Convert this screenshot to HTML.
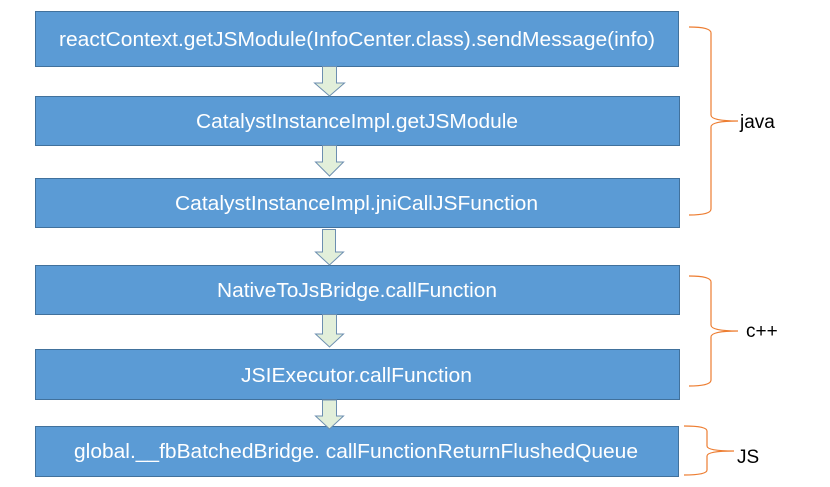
<!DOCTYPE html>
<html><head><meta charset="utf-8"><style>html,body{margin:0;padding:0;background:#fff}svg{display:block}</style></head>
<body>
<svg width="830" height="487" viewBox="0 0 830 487" xmlns="http://www.w3.org/2000/svg" font-family="Liberation Sans, Arial, sans-serif">
<g fill="#5b9bd5" stroke="#41719c" stroke-width="1">
<rect x="35.5" y="11.5" width="643" height="55"/>
<rect x="35.5" y="96.5" width="644" height="49"/>
<rect x="35.5" y="178.5" width="644" height="49"/>
<rect x="35.5" y="265.5" width="644" height="49"/>
<rect x="35.5" y="349.5" width="644" height="50"/>
<rect x="35.5" y="426.5" width="643" height="50"/>
</g>
<g fill="#e2efda" stroke="#6d8fb0" stroke-width="1">
<polygon points="322.5,66.5 336.5,66.5 336.5,83 344.5,83 329.5,96 314.5,83 322.5,83"/>
<polygon points="322.5,145.5 336.5,145.5 336.5,162 343.5,162 329.5,176 315.5,162 322.5,162"/>
<polygon points="322.5,229.5 335.5,229.5 335.5,252 343.5,252 329.5,265 315.5,252 322.5,252"/>
<polygon points="322.5,314.5 336.5,314.5 336.5,334 343.5,334 329.5,347 315.5,334 322.5,334"/>
<polygon points="322.5,400 336.5,400 336.5,416 343.5,416 329.5,429 315.5,416 322.5,416"/>
</g>
<g fill="#fff" font-size="20" lengthAdjust="spacingAndGlyphs">
<text x="59" y="46" textLength="596" lengthAdjust="spacingAndGlyphs">reactContext.getJSModule(InfoCenter.class).sendMessage(info)</text>
<text x="196" y="128" textLength="322" lengthAdjust="spacingAndGlyphs">CatalystInstanceImpl.getJSModule</text>
<text x="175" y="210" textLength="363" lengthAdjust="spacingAndGlyphs">CatalystInstanceImpl.jniCallJSFunction</text>
<text x="217" y="297" textLength="280" lengthAdjust="spacingAndGlyphs">NativeToJsBridge.callFunction</text>
<text x="241" y="382" textLength="231" lengthAdjust="spacingAndGlyphs">JSIExecutor.callFunction</text>
<text x="74" y="458" textLength="564" lengthAdjust="spacingAndGlyphs">global.__fbBatchedBridge. callFunctionReturnFlushedQueue</text>
</g>
<g fill="none" stroke="#ed7d31" stroke-width="1.2">
<path d="M689,27 Q711,27 711,33 L711,115 Q711,121 738,121 Q711,121 711,127 L711,209 Q711,215 689,215"/>
<path d="M689,276 Q711,276 711,282 L711,325 Q711,331 738,331 Q711,331 711,337 L711,380 Q711,386 689,386"/>
<path d="M684,426 Q707,426 707,431 L707,446 Q707,451 734,451 Q707,451 707,456 L707,470 Q707,475 684,475"/>
</g>
<g fill="#000" font-size="19">
<text x="740" y="128">java</text>
<text x="746" y="337">c++</text>
<text x="737" y="463">JS</text>
</g>
</svg>
</body></html>
